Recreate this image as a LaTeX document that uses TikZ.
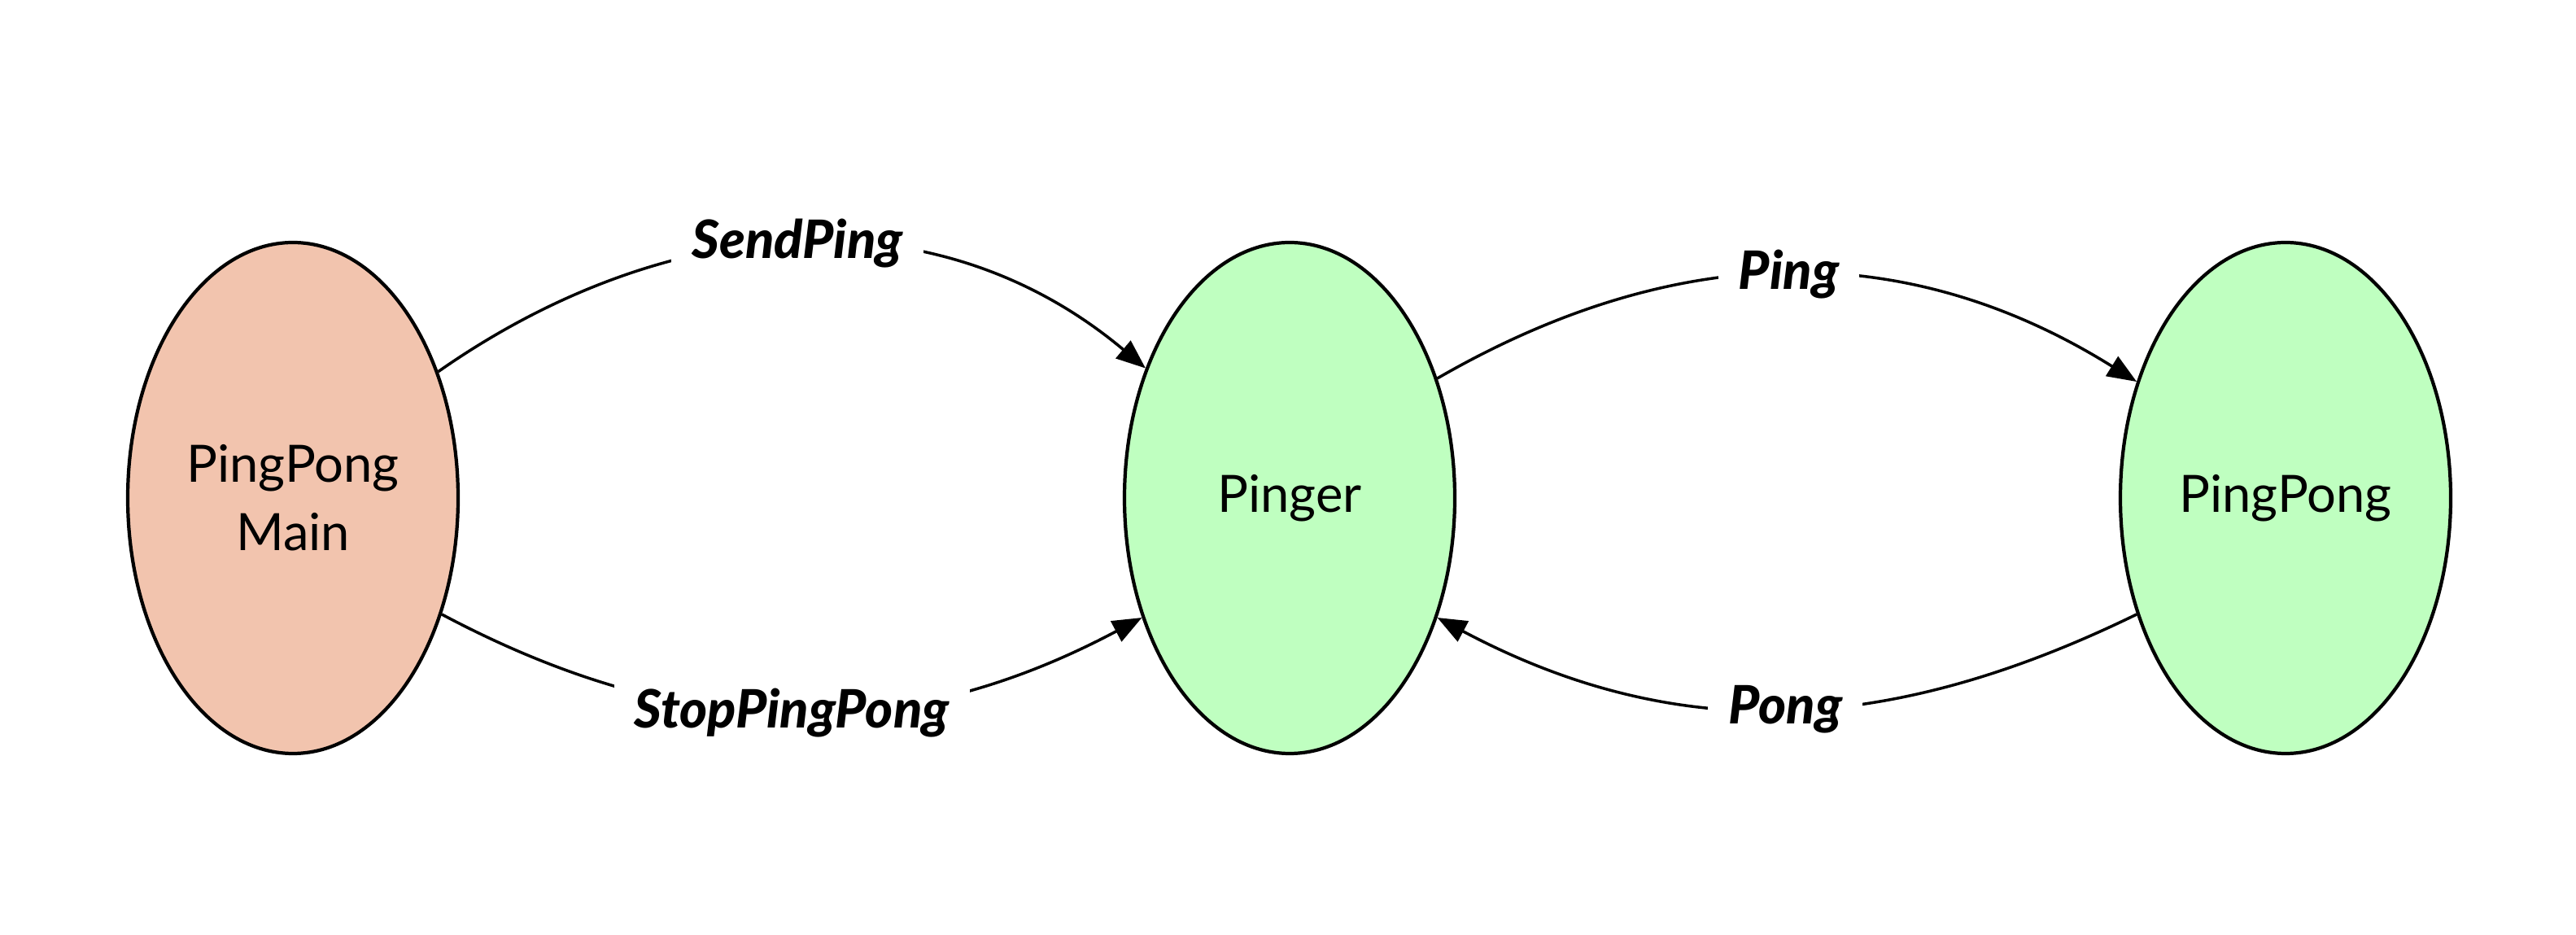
\documentclass[tikz,border=0pt]{standalone}
\usepackage{fontspec}
\setmainfont{Lato}[BoldItalicFont={Lato Black Italic}]
\usepackage{tikz}
\usetikzlibrary{arrows.meta,shapes.geometric}
\definecolor{mainfill}{HTML}{F2C4AE}
\definecolor{actorfill}{HTML}{BFFFC0}
\tikzset{
  actor/.style    = {ellipse,draw=black,line width=1.2pt,minimum width=4.06cm,
                     minimum height=6.28cm,inner sep=0pt,align=center,
                     font=\fontsize{18}{24}\selectfont},
  msgarr/.style   = {-{Triangle[length=3.6mm,width=2.8mm]},line width=1pt},
  msglabel/.style = {fill=white,inner sep=2.5mm,
                     font=\fontsize{18.5}{22}\selectfont\bfseries\itshape}
}

\begin{document}
\begin{tikzpicture}
  \useasboundingbox (0,0) rectangle (31.66,11.49);
  \node[actor,fill=mainfill]  (main)     at (3.60,5.37)  {PingPong\\Main};
  \node[actor,fill=actorfill] (pinger)   at (15.85,5.37) {Pinger};
  \node[actor,fill=actorfill] (pingpong) at (28.09,5.37) {PingPong};
  \draw[msgarr] (main.41) to[out=35,in=140] node[msglabel] {SendPing} (pinger.138);
  \draw[msgarr] (main.-38) to[out=-28,in=-152] node[msglabel] {StopPingPong} (pinger.-141);
  \draw[msgarr] (pinger.39) to[out=30,in=148] node[msglabel] {Ping} (pingpong.142);
  \draw[msgarr] (pingpong.-142) to[out=-154,in=-28] node[msglabel] {Pong} (pinger.-39);
\end{tikzpicture}
\end{document}
